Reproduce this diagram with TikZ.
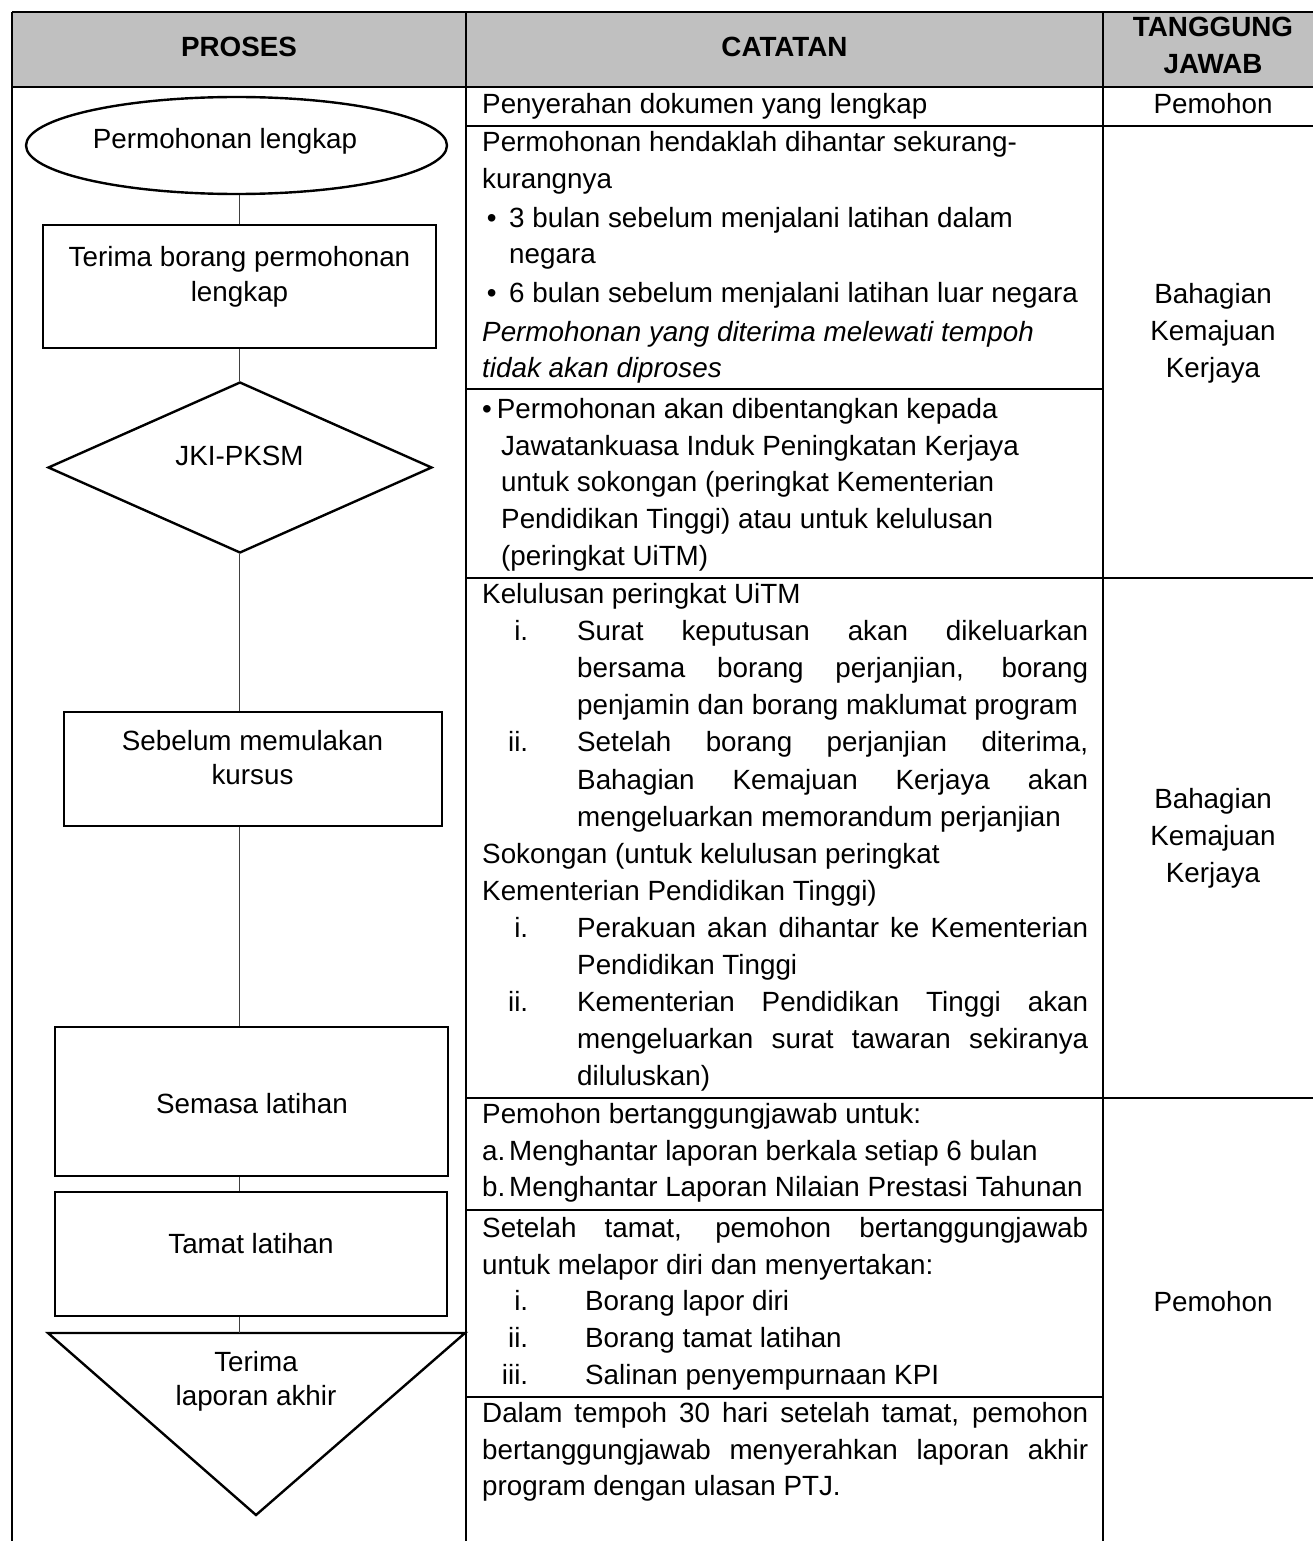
\documentclass[tikz,border=0pt]{standalone}
\usepackage{fontspec}
\setmainfont{Liberation Sans}
\usetikzlibrary{shapes.geometric}
\definecolor{hdrgray}{RGB}{192,192,192}
\newcommand{\bodysz}{\fontsize{27.8}{37}\selectfont}
\newcommand{\flowsz}{\fontsize{27.8}{34.5}\selectfont}
\newcommand{\duabaris}[2]{\begin{tabular}[t]{@{}c@{}}#1\\#2\end{tabular}}
\newcommand{\tigabaris}[3]{\begin{tabular}[t]{@{}c@{}}#1\\#2\\#3\end{tabular}}
\newcommand{\catbox}[2][36.8]{\parbox[t]{606pt}{\fontsize{27.8}{#1}\selectfont
  \tolerance=10000\hyphenpenalty=10000\relax #2}}
\newcommand{\nomb}[2]{\hangindent=#2\hangafter=0 \noindent\llap{#1}}
\begin{document}
\begin{tikzpicture}[x=1pt,y=-1pt,font=\bodysz,
  garis/.style={line width=2.4pt},
  bentuk/.style={draw,line width=2.4pt,inner sep=0pt,fill=white},
  sambung/.style={line width=1.3pt,draw=black!75},
  flowtxt/.style={anchor=base,inner sep=0pt,font=\flowsz},
  hdr/.style={anchor=base,inner sep=0pt,font=\bodysz\bfseries},
  catat/.style={anchor=base west,inner sep=0pt},
  tjawab/.style={anchor=base,inner sep=0pt}]
\useasboundingbox (0,0) rectangle (1312,1541);

% table
\fill[hdrgray] (12,12) rectangle (1323,87);
\draw[garis] (12,12) -- (1323,12);
\draw[garis] (12,87) -- (1323,87);
\foreach \x in {12,466,1103,1323} \draw[garis] (\x,12) -- (\x,1550);
\draw[garis] (466,126) -- (1323,126);
\draw[garis] (466,389) -- (1103,389);
\draw[garis] (466,578) -- (1323,578);
\draw[garis] (466,1098) -- (1323,1098);
\draw[garis] (466,1210) -- (1103,1210);
\draw[garis] (466,1397) -- (1103,1397);

\node[hdr] (hproses) at (239,57) {PROSES};
\node[hdr] (hcatatan) at (784.5,57) {CATATAN};
\node[hdr] (htj) at (1213,36.7) {\duabaris{TANGGUNG}{JAWAB}};

% flowchart
\coordinate (paksi) at (239.3,0);
\node[bentuk,ellipse,minimum width=421pt,minimum height=97pt] (mula) at (236.5,145.5) {};
\node[bentuk,minimum width=393pt,minimum height=123pt] (terima) at (239.5,286.5) {};
\node[bentuk,diamond,aspect=2.25,minimum width=384pt,minimum height=171pt] (jki) at (240,467.5) {};
\node[bentuk,minimum width=378pt,minimum height=114pt] (sebelum) at (253,769) {};
\node[bentuk,minimum width=393pt,minimum height=149pt] (semasa) at (251.5,1101.5) {};
\node[bentuk,minimum width=392pt,minimum height=124pt] (tamat) at (251,1254) {};
\draw[bentuk] (48,1333) -- (465,1333) -- (256,1515) -- cycle;
\coordinate (akhir) at (256,1333);

\draw[sambung] (paksi |- mula.south) -- (paksi |- terima.north);
\draw[sambung] (paksi |- terima.south) -- (paksi |- jki.north);
\draw[sambung] (paksi |- jki.south) -- (paksi |- sebelum.north);
\draw[sambung] (paksi |- sebelum.south) -- (paksi |- semasa.north);
\draw[sambung] (paksi |- semasa.south) -- (paksi |- tamat.north);
\draw[sambung] (paksi |- tamat.south) -- (paksi |- akhir);

\node[flowtxt] (tmula) at (225,149) {Permohonan lengkap};
\node[flowtxt] (tterima) at (239.5,266.7) {\duabaris{Terima borang permohonan}{lengkap}};
\node[flowtxt] (tjki) at (239.5,465.7) {JKI-PKSM};
\node[flowtxt] (tsebelum) at (252.5,750) {\duabaris{Sebelum memulakan}{kursus}};
\node[flowtxt] (tsemasa) at (252,1113.3) {Semasa latihan};
\node[flowtxt] (ttamat) at (251,1253.3) {Tamat latihan};
\node[flowtxt] (takhir) at (256,1371) {\duabaris{Terima}{laporan akhir}};

% catatan
\node[catat] (c1) at (482,113.3) {Penyerahan dokumen yang lengkap};
\node[catat] (c2) at (482,151.7) {\catbox[36.7]{\parskip=2pt
  Permohonan hendaklah dihantar sekurang-\\kurangnya\par
  \nomb{•\hskip12.6pt}{27pt}3 bulan sebelum menjalani latihan dalam\\negara\par
  \nomb{•\hskip12.6pt}{27pt}6 bulan sebelum menjalani latihan luar negara\par
  \textit{Permohonan yang diterima melewati tempoh\\tidak akan diproses}}};
\node[catat] (c3) at (482,418.5) {\catbox[36.7]{\hangindent=19pt\hangafter=1
  •\hskip5pt Permohonan akan dibentangkan kepada\\Jawatankuasa Induk Peningkatan Kerjaya\\untuk sokongan (peringkat Kementerian\\Pendidikan Tinggi) atau untuk kelulusan\\(peringkat UiTM)}};
\node[catat] (c4) at (482,603.5) {\catbox[37.1]{Kelulusan peringkat UiTM\par
  \nomb{i.\hskip49pt}{95pt}Surat keputusan akan dikeluarkan\linebreak bersama borang perjanjian, borang\linebreak penjamin dan borang maklumat program\par
  \nomb{ii.\hskip49pt}{95pt}Setelah borang perjanjian diterima,\linebreak Bahagian Kemajuan Kerjaya akan\linebreak mengeluarkan memorandum perjanjian\par
  Sokongan (untuk kelulusan peringkat\\Kementerian Pendidikan Tinggi)\par
  \nomb{i.\hskip49pt}{95pt}Perakuan akan dihantar ke Kementerian\linebreak Pendidikan Tinggi\par
  \nomb{ii.\hskip49pt}{95pt}Kementerian Pendidikan Tinggi akan\linebreak mengeluarkan surat tawaran sekiranya\linebreak diluluskan)}};
\node[catat] (c5) at (482,1123.5) {\catbox[36.7]{Pemohon bertanggungjawab untuk:\par
  \nomb{\makebox[27pt][l]{a.}}{27pt}Menghantar laporan berkala setiap 6 bulan\par
  \nomb{\makebox[27pt][l]{b.}}{27pt}Menghantar Laporan Nilaian Prestasi Tahunan}};
\node[catat] (c6) at (482,1237.3) {\catbox[36.7]{Setelah tamat, pemohon bertanggungjawab\linebreak untuk melapor diri dan menyertakan:\par
  \nomb{i.\hskip57pt}{103pt}Borang lapor diri\par
  \nomb{ii.\hskip57pt}{103pt}Borang tamat latihan\par
  \nomb{iii.\hskip57pt}{103pt}Salinan penyempurnaan KPI}};
\node[catat] (c7) at (482,1422.3) {\catbox[36.7]{Dalam tempoh 30 hari setelah tamat, pemohon\linebreak bertanggungjawab menyerahkan laporan akhir\linebreak program dengan ulasan PTJ.}};

% tanggung jawab
\node[tjawab] (tj1) at (1213,113.3) {Pemohon};
\node[tjawab] (tj2) at (1213,303) {\tigabaris{Bahagian}{Kemajuan}{Kerjaya}};
\node[tjawab] (tj3) at (1213,808) {\tigabaris{Bahagian}{Kemajuan}{Kerjaya}};
\node[tjawab] (tj4) at (1213,1311) {Pemohon};
\end{tikzpicture}
\end{document}
